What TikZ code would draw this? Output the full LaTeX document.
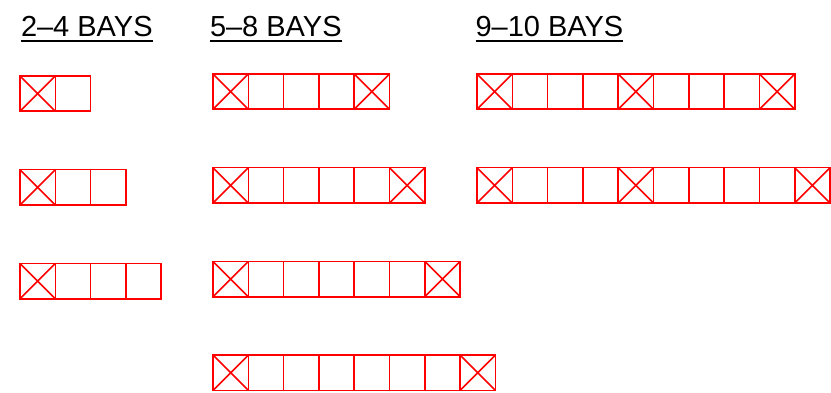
\documentclass[tikz,border=0pt]{standalone}
\usepackage{fontspec}
\setmainfont{Liberation Sans}
\usepackage{tikz}
\tikzset{
  bay/.style={draw=red,line width=1.6pt,minimum size=35.3pt,inner sep=0pt,outer sep=0pt},
  endbay/.style={bay,path picture={
    \draw[red,line width=1.6pt] (path picture bounding box.north west) -- (path picture bounding box.south east)
      (path picture bounding box.north east) -- (path picture bounding box.south west);}},
  heading/.style={font=\fontsize{29}{29}\selectfont,inner sep=0pt,outer sep=0pt,anchor=base west,text depth=0pt},
  underl/.style={line width=1.4pt}
}
\begin{document}
\begin{tikzpicture}[x=1pt,y=-1pt]
  \useasboundingbox (0,0) rectangle (831,393);
  % headings
  \node[heading] (h1) at (21,37) {2–4 BAYS};
  \node[heading] (h2) at (210,37) {5–8 BAYS};
  \node[heading] (h3) at (475.5,37) {9–10 BAYS};
  \foreach \h in {h1,h2,h3}
    \draw[underl] ([yshift=-4pt]\h.south west) -- ([yshift=-4pt]\h.south east);
  % rows of bays
  \def\bw{35.3}
  \foreach \x/\y/\n/\rname in {20/76/2/a, 20/169.7/3/b, 20/263.4/4/c,
      213/74/5/d, 213/167.7/6/e, 213/261.4/7/f, 213/355.1/8/g,
      477/74/9/h, 477/167.7/10/k}{
    \foreach \i in {1,...,\n}{
      \pgfmathtruncatemacro\cross{(\i==1)||(\n>4&&\i==\n)||(\n>8&&\i==5)}
      \ifnum\cross=1
        \node[endbay] (\rname\i) at ({\x+(\i-0.5)*\bw},{\y+0.5*\bw}) {};
      \else
        \node[bay] (\rname\i) at ({\x+(\i-0.5)*\bw},{\y+0.5*\bw}) {};
      \fi
    }
  }
\end{tikzpicture}
\end{document}
